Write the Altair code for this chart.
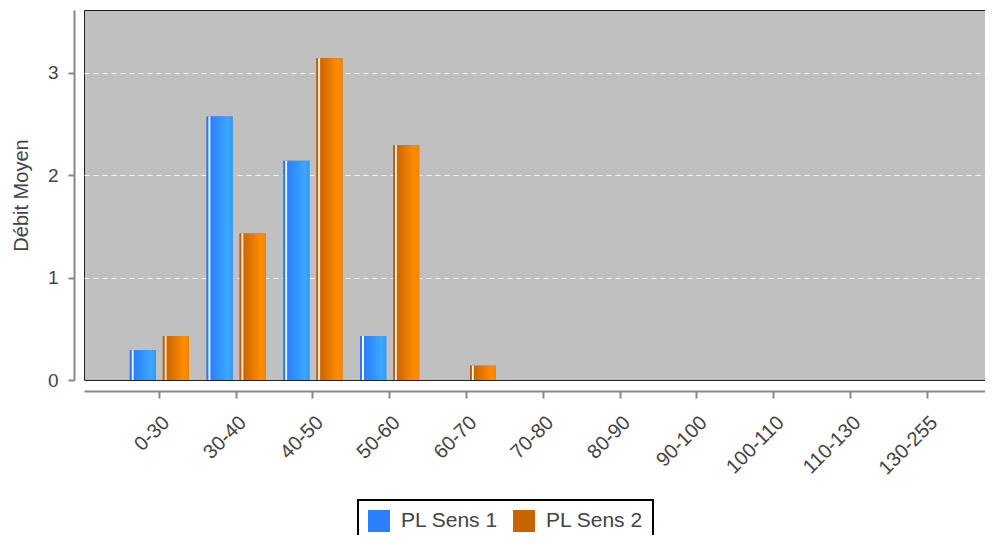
import altair as alt
import pandas as pd

categories = ["0-30", "30-40", "40-50", "50-60", "60-70", "70-80", "80-90",
              "90-100", "100-110", "110-130", "130-255"]
sens1 = [0.29, 2.57, 2.14, 0.43, 0, 0, 0, 0, 0, 0, 0]
sens2 = [0.43, 1.43, 3.14, 2.29, 0.14, 0, 0, 0, 0, 0, 0]
series = ["PL Sens 1", "PL Sens 2"]
colors = ["#2a7fff", "#c86400"]
y_ticks = [0, 1, 2, 3]

rows = []
for c, a, b in zip(categories, sens1, sens2):
    rows.append({"cls": c, "serie": series[0], "val": a})
    rows.append({"cls": c, "serie": series[1], "val": b})
df = pd.DataFrame(rows)

FONT = "Liberation Sans"

grad_blue = alt.Gradient(
    gradient="linear", x1=0, x2=1, y1=0, y2=0,
    stops=[
        alt.GradientStop(color="#1f6fe8", offset=0.0),
        alt.GradientStop(color="#2a7dff", offset=0.06),
        alt.GradientStop(color="#ffffff", offset=0.085),
        alt.GradientStop(color="#e8f2ff", offset=0.13),
        alt.GradientStop(color="#2a80ff", offset=0.16),
        alt.GradientStop(color="#3aa8ff", offset=0.82),
        alt.GradientStop(color="#3399f5", offset=1.0),
    ],
)
grad_orange = alt.Gradient(
    gradient="linear", x1=0, x2=1, y1=0, y2=0,
    stops=[
        alt.GradientStop(color="#b85c00", offset=0.0),
        alt.GradientStop(color="#c86400", offset=0.06),
        alt.GradientStop(color="#ffffff", offset=0.085),
        alt.GradientStop(color="#f5e0c8", offset=0.13),
        alt.GradientStop(color="#cc6600", offset=0.16),
        alt.GradientStop(color="#ff8c00", offset=0.82),
        alt.GradientStop(color="#f58400", offset=1.0),
    ],
)

x_enc = alt.X(
    "cls:N", sort=categories, title=None,
    scale=alt.Scale(paddingInner=0, paddingOuter=0.366, align=0.657),
    axis=alt.Axis(
        labelAngle=-45, offset=11, domainColor="#888888", domainWidth=2,
        tickColor="#888888", tickWidth=2, tickSize=7, labelFontSize=20,
        labelColor="#444444", labelPadding=14, grid=False, labelFont=FONT,
    ),
)
xoff_enc = alt.XOffset(
    "serie:N", scale=alt.Scale(domain=series, paddingInner=0.212, paddingOuter=0.27)
)
y_enc = alt.Y(
    "val:Q", title="Débit Moyen",
    scale=alt.Scale(domain=[0, 3.61], nice=False, zero=True),
    axis=alt.Axis(
        values=y_ticks, format="d", offset=10, domainColor="#888888", domainWidth=2,
        tickColor="#888888", tickWidth=2, tickSize=6, labelFontSize=19,
        labelColor="#444444", labelPadding=10, titleFontSize=20, titleColor="#444444",
        titleFontWeight="normal", titlePadding=16, labelFont=FONT, titleFont=FONT,
        grid=True, gridDash=[5, 4], gridWidth=1,
        gridColor={"condition": {"test": "datum.value === 0", "value": "transparent"},
                   "value": "#f4f4f4"},
    ),
)

base = alt.Chart(df).encode(x=x_enc, xOffset=xoff_enc, y=y_enc)

solid = base.mark_bar().encode(
    color=alt.Color(
        "serie:N",
        scale=alt.Scale(domain=series, range=colors),
        legend=alt.Legend(
            title=None, orient="none", legendX=274, legendY=490,
            direction="horizontal", columns=2, symbolType="square",
            symbolSize=484, symbolStrokeWidth=0, symbolOpacity=1,
            labelFontSize=21, labelColor="#444444", labelFont=FONT,
            strokeColor="black", padding=10, columnPadding=15, labelOffset=11,
        ),
    )
)
g1 = base.transform_filter(alt.datum.serie == series[0]).mark_bar(fill=grad_blue)
g2 = base.transform_filter(alt.datum.serie == series[1]).mark_bar(fill=grad_orange)

chart = alt.layer(solid, g1, g2).properties(
    width=901, height=370,
    autosize=alt.AutoSizeParams(type="none"),
    padding={"left": 76, "top": 2, "right": 0, "bottom": 155},
).configure(
    font=FONT
).configure_view(
    fill="#c0c0c0", stroke="#222222", strokeWidth=1
).configure_legend(strokeWidth=2)

chart.save("out.html", embed_options={"renderer": "svg", "actions": False})
